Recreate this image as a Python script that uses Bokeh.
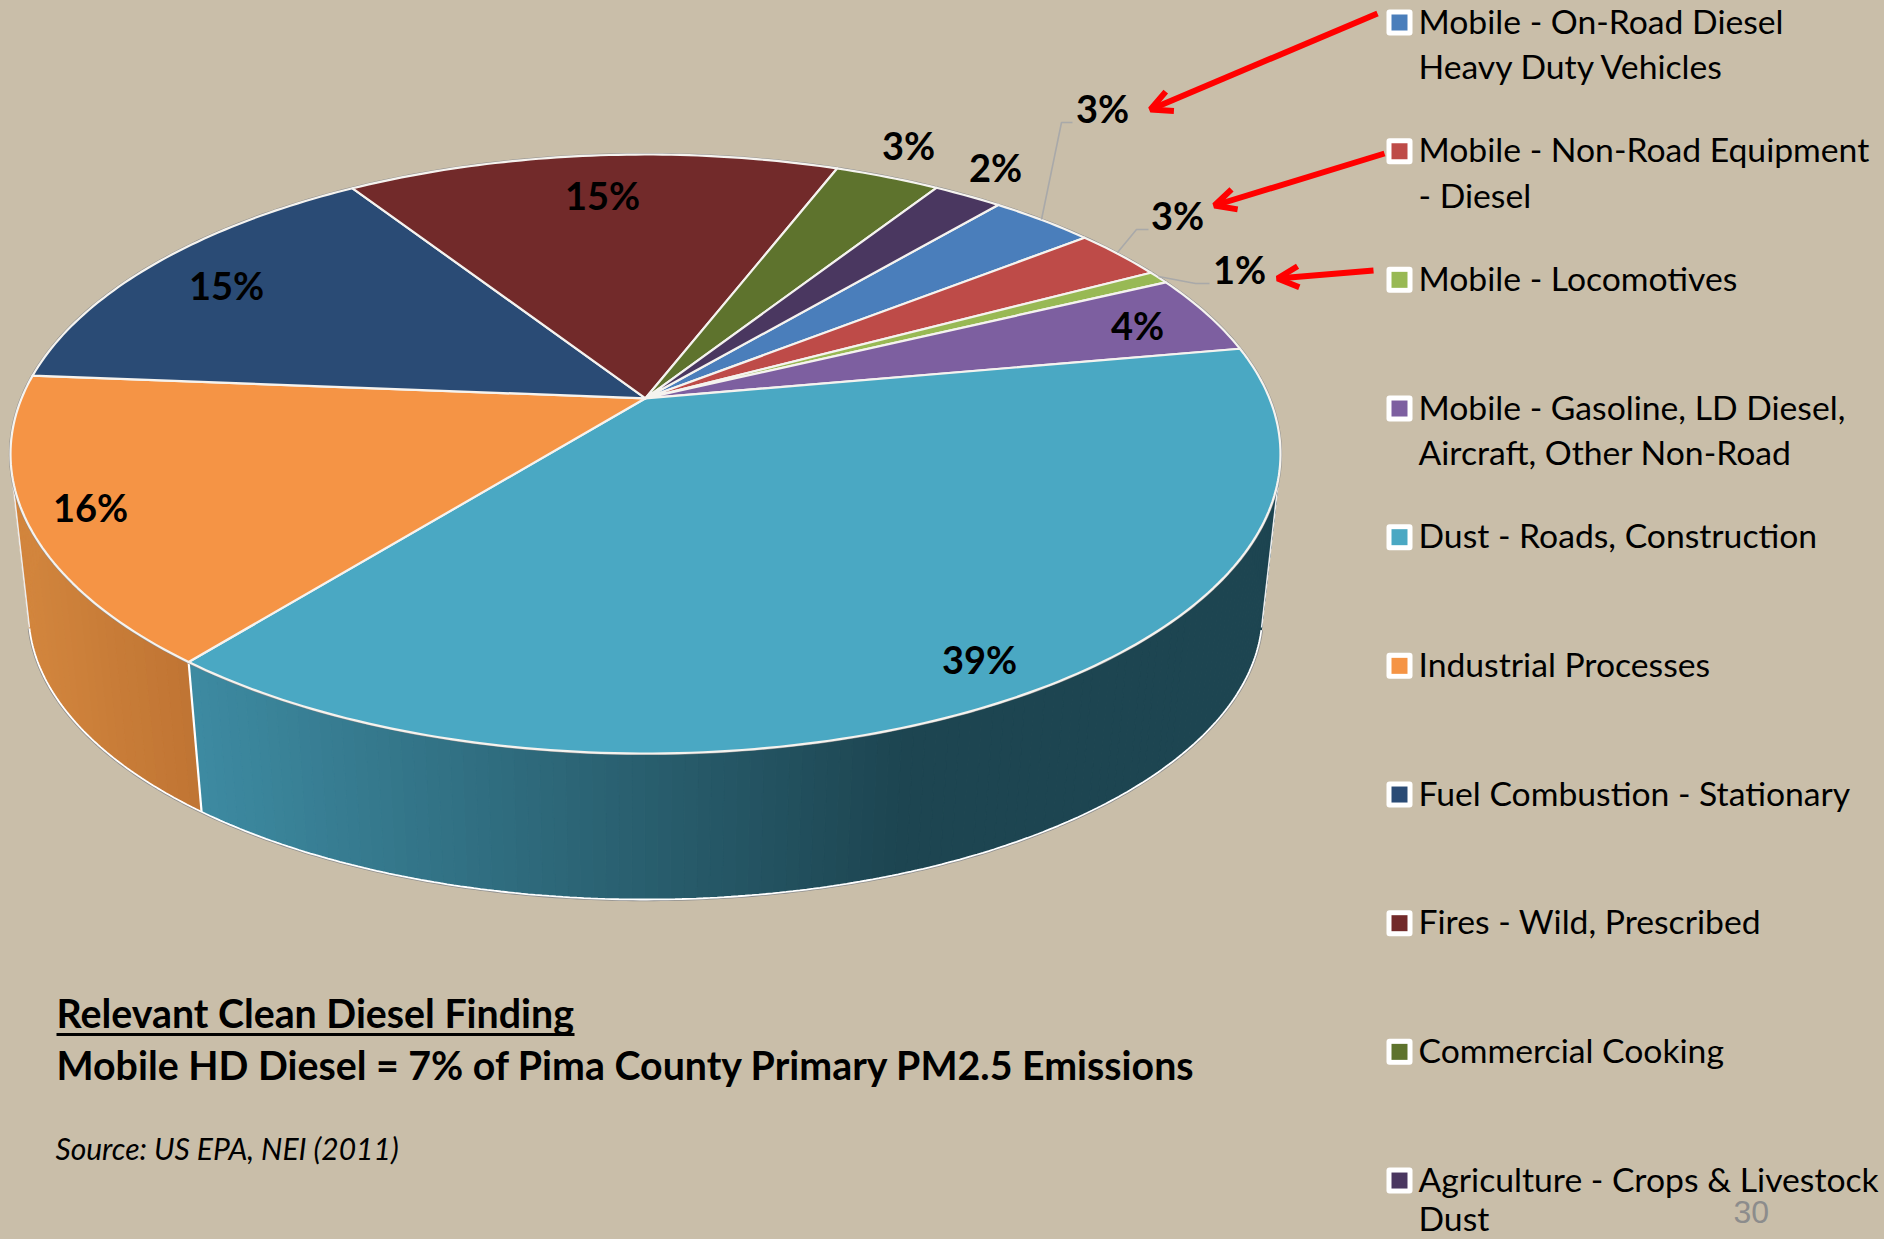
import math
from bokeh.core.properties import value
from bokeh.embed import file_html
from bokeh.models import Arrow, OpenHead, Range1d
from bokeh.plotting import figure
from bokeh.resources import INLINE

# ---- data, in legend order, clockwise round the pie ----
categories = ["Mobile - On-Road Diesel Heavy Duty Vehicles", "Mobile - Non-Road Equipment - Diesel",
              "Mobile - Locomotives", "Mobile - Gasoline, LD Diesel, Aircraft, Other Non-Road",
              "Dust - Roads, Construction", "Industrial Processes", "Fuel Combustion - Stationary",
              "Fires - Wild, Prescribed", "Commercial Cooking", "Agriculture - Crops & Livestock Dust"]
values = [3.2, 2.8, 0.7, 4.3, 38.6, 15.5, 14.6, 15.0, 3.2, 2.1]
labels = ["3%", "3%", "1%", "4%", "39%", "16%", "15%", "15%", "3%", "2%"]
legend_lines = [["Mobile - On-Road Diesel", "Heavy Duty Vehicles"], ["Mobile - Non-Road Equipment", "- Diesel"],
                ["Mobile - Locomotives"], ["Mobile - Gasoline, LD Diesel,", "Aircraft, Other Non-Road"],
                ["Dust - Roads, Construction"], ["Industrial Processes"], ["Fuel Combustion - Stationary"],
                ["Fires - Wild, Prescribed"], ["Commercial Cooking"], ["Agriculture - Crops & Livestock", "Dust"]]

# ---- styles and layout ----
colors = ["#4A7EBB", "#BE4B48", "#98B954", "#7D5FA0", "#4AA8C3", "#F59445", "#2A4B75", "#722A2A", "#5E732D", "#4A3760"]
BG = "#C9BEA9"
label_x = [1102, 1177, 1239, 1137, 979, 90, 226, 602, 908, 995]
label_y = [107, 214, 268, 324, 658, 506, 284, 194, 144, 166]
leaders = [([1041, 1061, 1072], [219, 122, 122]), ([1117, 1136, 1148], [252, 229, 229]), ([1158, 1195, 1209], [276, 283, 283])]
arrows = [(1377, 13, 1150, 109), (1384, 153, 1214, 205), (1373, 270, 1277, 278)]
START = -49.8          # degrees, screen-clockwise, of the first slice's start
CX, TOP_CY, TOP_A, TOP_B = 645, 453.5, 635, 299.5
BOT_CY, BOT_A, BOT_B = 612, 617, 287
E = 0.186              # perspective: how far the pie's apex sits above the ellipse centre
DY = 13                # how far Bokeh's SVG text sits below the requested baseline
TANGENT = math.sin(math.radians(3))


def norm(th):
    s, c = math.sin(th), math.cos(th)
    d = 1 - E * s
    return c * math.sqrt(1 - E * E) / d, (s - E) / d


def top(th):
    X, Y = norm(th)
    return CX + TOP_A * X, TOP_CY + TOP_B * Y


def bot(th):
    X, Y = norm(th)
    return CX + BOT_A * X, BOT_CY + BOT_B * Y


def mix(c1, c2, t):
    t = max(0, min(1, t))
    a = [int(c1[i:i + 2], 16) for i in (1, 3, 5)]
    b = [int(c2[i:i + 2], 16) for i in (1, 3, 5)]
    return "#%02x%02x%02x" % tuple(round(a[i] + (b[i] - a[i]) * t) for i in range(3))


total = sum(values)
edges = [math.radians(START)]
for v in values:
    edges.append(edges[-1] + 2 * math.pi * v / total)

p = figure(width=1884, height=1239, output_backend="svg", toolbar_location=None,
           x_range=Range1d(0, 1884), y_range=Range1d(1239, 0), min_border=0)
p.styles = {"position": "fixed", "left": "0", "top": "0", "background-color": BG}
p.axis.visible = False
p.grid.visible = False
p.outline_line_color = None
p.background_fill_color = BG
p.border_fill_color = BG


def wall(i, n, c1, c2, x1, x2):
    a, b = edges[i], edges[i + 1]
    xs, ys, cs = [], [], []
    for k in range(n):
        t0, t1 = a + (b - a) * k / n, a + (b - a) * (k + 1) / n
        pts = [top(t0), top(t1), bot(t1), bot(t0)]
        xs.append([q[0] for q in pts])
        ys.append([q[1] for q in pts])
        cs.append(mix(c1, c2, (sum(q[0] for q in pts) / 4 - x1) / (x2 - x1)))
    p.patches(xs, ys, fill_color=cs, line_color=cs, line_width=1)


DUST, IND = 4, 5
span = [edges[DUST] + (edges[IND + 1] - edges[DUST]) * k / 360 for k in range(361)]
arc = [bot(t) for t in span if norm(t)[1] >= TANGENT]
p.line([q[0] for q in arc], [q[1] for q in arc], line_color="#8F8F8F", line_width=3.4)
wall(DUST, 140, "#3D8AA1", "#1D4551", 200, 900)
wall(IND, 40, "#D2853D", "#BF7433", 28, 200)
p.line([q[0] for q in arc], [q[1] for q in arc], line_color="white", line_width=1.8)
b_pt, t_pt = bot(edges[IND]), top(edges[IND])
p.line([t_pt[0], b_pt[0]], [t_pt[1], b_pt[1]], line_color="white", line_width=2.2)
# silhouettes of the wall at left and right
for sgn in (-1, 1):
    cphi = sgn * math.cos(math.radians(3))
    p.line([CX + TOP_A * cphi, CX + BOT_A * cphi], [TOP_CY + TOP_B * TANGENT, BOT_CY + BOT_B * TANGENT],
           line_color="#EDEDED", line_width=1.6)

# top face
ring = [top(2 * math.pi * k / 360) for k in range(360)]
p.patch([q[0] for q in ring], [q[1] for q in ring], fill_color=None, line_color="#8F8F8F", line_width=3.2)
cx0, cy0 = CX, TOP_CY + TOP_B * (-E)
for i in range(len(values)):
    n = max(3, int((edges[i + 1] - edges[i]) * 60))
    pts = [top(edges[i] + (edges[i + 1] - edges[i]) * k / n) for k in range(n + 1)]
    p.patch([cx0] + [q[0] for q in pts], [cy0] + [q[1] for q in pts], fill_color=colors[i],
            line_color="#F5F3EF", line_width=2.2, line_join="round")

# percent labels and their leaders
for xs, ys in leaders:
    p.line(xs, ys, line_color="#A9A9A9", line_width=1.6)
p.text(label_x, label_y, text=labels, text_font=value("Lato"), text_font_style="bold", text_font_size="38px",
       text_color="black", text_align="center", text_baseline="middle")

# red arrows
for x0, y0, x1, y1 in arrows:
    p.add_layout(Arrow(x_start=x0, y_start=y0, x_end=x1, y_end=y1, line_color="#FF0000", line_width=6,
                       end=OpenHead(size=21, line_color="#FF0000", line_width=6)))

# legend
for i, lines in enumerate(legend_lines):
    yc = 22 + 128.67 * i
    p.quad(left=[1386], right=[1412], top=[yc - 13], bottom=[yc + 13], fill_color="white", line_color=None, border_radius=3)
    p.quad(left=[1391], right=[1407], top=[yc - 8], bottom=[yc + 8], fill_color=colors[i], line_color=None)
    for j, t in enumerate(lines):
        up = 6 if i == len(legend_lines) - 1 and j == 1 else 0
        p.text([1418], [yc + 11 + 45.6 * j - DY - up], text=[t], text_font=value("Lato"), text_font_size="33.7px",
               text_color="black", text_baseline="alphabetic")

# notes
p.text([56], [1027 - 15], text=["Relevant Clean Diesel Finding"], text_font=value("Lato"), text_font_style="bold",
       text_font_size="39.3px", text_color="black", text_baseline="alphabetic")
p.line([56, 574], [1034, 1034], line_color="black", line_width=3)
p.text([56], [1079 - 15], text=["Mobile HD Diesel = 7% of Pima County Primary PM2.5 Emissions"], text_font=value("Lato"),
       text_font_style="bold", text_font_size="39.3px", text_color="black", text_baseline="alphabetic")
p.text([55], [1158 - 11], text=["Source: US EPA, NEI (2011)"], text_font=value("Lato"), text_font_style="italic",
       text_font_size="30px", text_color="black", text_baseline="alphabetic")
p.text([1733], [1223 - 12], text=["30"], text_font=value("Liberation Sans"), text_font_size="32px",
       text_color="#8C8C8C", text_baseline="alphabetic")

open("out.html", "w").write(file_html(p, INLINE))
